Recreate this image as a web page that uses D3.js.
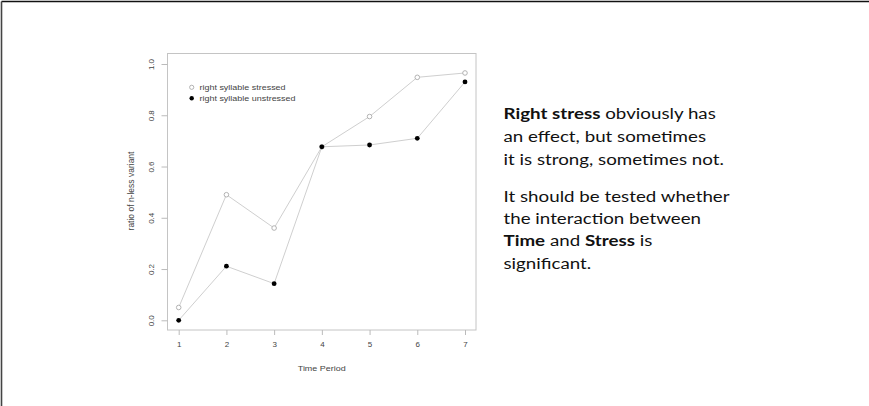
<!DOCTYPE html>
<html><head><meta charset="utf-8">
<script src="https://cdn.jsdelivr.net/npm/d3@7"></script>
<style>html,body{margin:0;padding:0;background:#fff;}svg{display:block;}</style>
</head><body>
<script>
const periods = [1,2,3,4,5,6,7];
const stressed = [0.05,0.49,0.36,0.677,0.795,0.948,0.965];
const unstressed = [0.0,0.211,0.143,0.677,0.684,0.71,0.93];
const yTicks = [0.0,0.2,0.4,0.6,0.8,1.0];
const seriesNames = ["right syllable stressed","right syllable unstressed"];

const W=869,H=406;
const svg=d3.select("body").append("svg").attr("width",W).attr("height",H);

// slide frame
svg.append("line").attr("x1",1.5).attr("y1",1.5).attr("x2",W).attr("y2",1.5).attr("stroke","#111").attr("stroke-width",1.6);
svg.append("line").attr("x1",1.5).attr("y1",1.5).attr("x2",1.5).attr("y2",H).attr("stroke","#444").attr("stroke-width",1.6);

const box={l:167.5,t:53.5,r:476,b:330};
const x=d3.scaleLinear().domain([1,7]).range([178.7,465]);
const y=d3.scaleLinear().domain([0,1]).range([320.3,64]);

svg.append("rect").attr("x",box.l).attr("y",box.t).attr("width",box.r-box.l).attr("height",box.b-box.t)
  .attr("fill","none").attr("stroke","#c4c4c4").attr("stroke-width",1);

const tickCol="#444";
const rFont="Liberation Sans, Arial, sans-serif";
const xAxis=svg.append("g").attr("transform",`translate(0,${box.b})`)
  .call(d3.axisBottom(x).tickValues(periods).tickSize(5).tickPadding(6).tickFormat(d3.format("d")));
const yAxis=svg.append("g").attr("transform",`translate(${box.l},0)`)
  .call(d3.axisLeft(y).tickValues(yTicks).tickSize(6).tickPadding(4).tickFormat(d3.format(".1f")));
[xAxis,yAxis].forEach(a=>{
  a.select(".domain").remove();
  a.selectAll(".tick line").attr("stroke","#bbb");
  a.selectAll(".tick text").attr("fill",tickCol).style("font-family",rFont).style("font-size","8px");
});
yAxis.selectAll(".tick text").attr("x",-16).attr("y",0).attr("dy","0.35em").attr("text-anchor","middle")
  .attr("transform","rotate(-90,-16,0)");

svg.append("text").attr("text-anchor","middle")
  .attr("transform","translate(321.7,370.5) scale(1.12,1)")
  .style("font-family",rFont).style("font-size","8px").attr("fill",tickCol).text("Time Period");
svg.append("text").attr("transform","translate(133.5,191) rotate(-90)").attr("text-anchor","middle")
  .style("font-family",rFont).style("font-size","8.5px").attr("fill",tickCol).text("ratio of n-less variant");

const line=d3.line().x((d,i)=>x(periods[i])).y(d=>y(d));
[stressed,unstressed].forEach(s=>{
  svg.append("path").attr("d",line(s)).attr("fill","none").attr("stroke","#cfcfcf").attr("stroke-width",1);
});
svg.selectAll("circle.s").data(stressed).join("circle").attr("class","s")
  .attr("cx",(d,i)=>x(periods[i])).attr("cy",d=>y(d)).attr("r",2.3).attr("fill","#fff").attr("stroke","#aaa").attr("stroke-width",0.9);
svg.selectAll("circle.u").data(unstressed).join("circle").attr("class","u")
  .attr("cx",(d,i)=>x(periods[i])).attr("cy",d=>y(d)).attr("r",2.4).attr("fill","#000");

// legend
const lg=svg.append("g");
seriesNames.forEach((n,i)=>{
  const cy=87.3+i*11;
  if(i===0) lg.append("circle").attr("cx",191.7).attr("cy",cy).attr("r",2.1).attr("fill","#fff").attr("stroke","#aaa").attr("stroke-width",0.9);
  else lg.append("circle").attr("cx",191.7).attr("cy",cy).attr("r",2.2).attr("fill","#000");
  lg.append("text").attr("transform",`translate(199.5,${cy}) scale(1.12,1)`).attr("dy","0.35em")
    .style("font-family",rFont).style("font-size","8px").attr("fill",tickCol).text(n);
});

// annotation text
const lines=[
  [["Right stress",true],[" obviously has",false]],
  [["an effect, but sometimes",false]],
  [["it is strong, sometimes not.",false]],
  null,
  [["It should be tested whether",false]],
  [["the interaction between",false]],
  [["Time",true],[" and ",false],["Stress",true],[" is",false]],
  [["significant.",false]]
];
const ys=[119.5,142.5,165.5,null,202,224.5,246.5,269];
const tg=svg.append("g").attr("transform","translate(503.5,0) scale(1.25,1)")
  .style("font-family","Lato, 'Open Sans', sans-serif").style("font-size","15px").attr("fill","#111");
lines.forEach((ln,i)=>{
  if(!ln) return;
  const t=tg.append("text").attr("x",0).attr("y",ys[i]);
  ln.forEach(([s,b])=>t.append("tspan").attr("font-weight",b?"bold":"normal").text(s));
});
</script>
</body></html>
